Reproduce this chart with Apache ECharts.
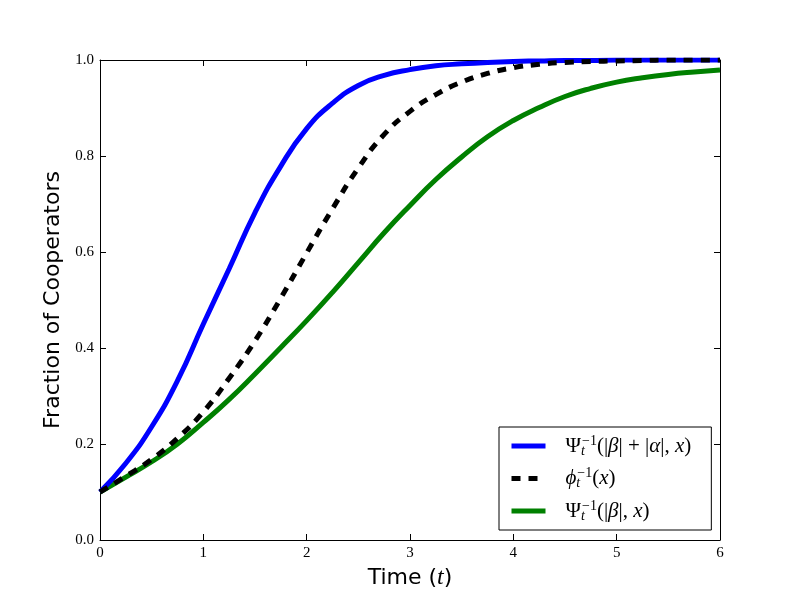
<!DOCTYPE html>
<html>
<head>
<meta charset="utf-8">
<title>Fraction of Cooperators</title>
<script src="https://cdn.jsdelivr.net/npm/echarts@6/dist/echarts.min.js"></script>
<style>
  html, body { margin: 0; padding: 0; background: #fff; }
  #main { width: 800px; height: 600px; }
</style>
</head>
<body>
<div id="main"></div>
<script>
// tiempo muestreado cada 0.25
var tiempos = [0, 0.25, 0.5, 0.75, 1, 1.25, 1.5, 1.75, 2, 2.25, 2.5, 2.75, 3,
    3.25, 3.5, 3.75, 4, 4.25, 4.5, 4.75, 5, 5.25, 5.5, 5.75, 6];

// valores
var psiBetaAlfa = [0.100, 0.160, 0.236, 0.332, 0.450, 0.565, 0.682, 0.779, 0.857, 0.910,
    0.947, 0.968, 0.980, 0.988, 0.992, 0.995, 0.997, 0.998, 0.999, 0.999,
    1.000, 1.000, 1.000, 1.000, 1.000];
var phiInv = [0.100, 0.133, 0.168, 0.212, 0.267, 0.337, 0.415, 0.504, 0.598, 0.690,
    0.775, 0.845, 0.893, 0.928, 0.954, 0.972, 0.984, 0.991, 0.995, 0.997,
    0.998, 0.999, 1.000, 1.000, 1.000];
var psiBeta = [0.100, 0.131, 0.163, 0.200, 0.245, 0.293, 0.346, 0.401, 0.457, 0.516,
    0.578, 0.640, 0.697, 0.751, 0.798, 0.840, 0.874, 0.901, 0.924, 0.941,
    0.954, 0.963, 0.970, 0.975, 0.979];

var xTicks = [0, 1, 2, 3, 4, 5, 6];
var yTicks = [0.0, 0.2, 0.4, 0.6, 0.8, 1.0];

var nombres = ['psiBA', 'phi', 'psiB'];

// etiquetas de la leyenda en texto enriquecido
var etiquetas = {
    psiBA: '{m|Ψ}{sb|t}{sp|−1}{m|(|}{i|β}{m|| + |}{i|α}{m||, }{i|x}{m|)}',
    phi: '{i|ϕ}{sb|t}{sp|−1}{m|(}{i|x}{m|)}',
    psiB: '{m|Ψ}{sb|t}{sp|−1}{m|(|}{i|β}{m||, }{i|x}{m|)}'
};

const armarPares = (xs, ys) => xs.map((x, i) => [x, ys[i]]);

var serif = 'Liberation Serif';
var fuenteLeyenda = 21;

var richLeyenda = {
    m: { fontFamily: serif, fontSize: fuenteLeyenda, lineHeight: 24, color: '#000' },
    i: { fontFamily: serif, fontSize: fuenteLeyenda, fontStyle: 'italic', lineHeight: 24, color: '#000' },
    sb: { fontFamily: serif, fontSize: 14, fontStyle: 'italic', lineHeight: 11, verticalAlign: 'bottom', width: 1, color: '#000' },
    sp: { fontFamily: serif, fontSize: 14, lineHeight: 11, verticalAlign: 'top', color: '#000' }
};

function ejeMarco(pos, min, max, intervalo) {
    return {
        type: 'value', position: pos, min: min, max: max, interval: intervalo,
        axisLine: { show: true, onZero: false, lineStyle: { color: '#000', width: 1 } },
        axisTick: { show: true, inside: true, length: 6, lineStyle: { color: '#000' } },
        axisLabel: { show: false },
        splitLine: { show: false }
    };
}

var chart = echarts.init(document.getElementById('main'), null, { renderer: 'canvas' });

var option = {
    backgroundColor: '#fff',
    animation: false,
    grid: { left: 100, right: 80, top: 60, bottom: 60, show: false },
    xAxis: [{
        type: 'value', min: 0, max: 6, interval: 1, position: 'bottom',
        name: '{s|Time (}{t|t}{s|)}',
        nameLocation: 'middle', nameGap: 26,
        nameTextStyle: {
            rich: {
                s: { fontFamily: 'DejaVu Sans', fontSize: 22, color: '#000' },
                t: { fontFamily: serif, fontSize: 24, fontStyle: 'italic', color: '#000' }
            }
        },
        axisLine: { show: true, onZero: false, lineStyle: { color: '#000', width: 1 } },
        axisTick: { show: true, inside: true, length: 6, lineStyle: { color: '#000' } },
        axisLabel: { fontFamily: serif, fontSize: 15, color: '#000', margin: 6,
            formatter: v => xTicks.indexOf(v) >= 0 ? String(v) : '' },
        splitLine: { show: false }
    }, ejeMarco('top', 0, 6, 1)],
    yAxis: [{
        type: 'value', min: 0, max: 1, interval: 0.2, position: 'left',
        name: 'Fraction of Cooperators',
        nameLocation: 'middle', nameGap: 32, nameRotate: 90,
        nameTextStyle: { fontFamily: 'DejaVu Sans', fontSize: 22, color: '#000' },
        axisLine: { show: true, onZero: false, lineStyle: { color: '#000', width: 1 } },
        axisTick: { show: true, inside: true, length: 6, lineStyle: { color: '#000' } },
        axisLabel: { fontFamily: serif, fontSize: 15, color: '#000', margin: 6,
            formatter: v => yTicks.some(t => Math.abs(t - v) < 1e-9) ? v.toFixed(1) : '' },
        splitLine: { show: false }
    }, ejeMarco('right', 0, 1, 0.2)],
    legend: {
        data: nombres,
        orient: 'vertical',
        left: 499, top: 427,
        backgroundColor: '#fff',
        borderColor: '#000', borderWidth: 1, borderRadius: 0,
        padding: [7, 20, 7, 10],
        itemWidth: 34, itemHeight: 14, itemGap: 8.5,
        itemStyle: { opacity: 0 },
        lineStyle: { width: 5 },
        formatter: n => etiquetas[n],
        textStyle: { padding: [0, 0, 0, 15], rich: richLeyenda }
    },
    series: [{
        name: 'psiBA', type: 'line', data: armarPares(tiempos, psiBetaAlfa),
        smooth: 0.5, symbol: 'none',
        lineStyle: { color: '#0000ff', width: 5 }, itemStyle: { color: '#0000ff' }, z: 3
    }, {
        name: 'phi', type: 'line', data: armarPares(tiempos, phiInv),
        smooth: 0.5, symbol: 'none',
        lineStyle: { color: '#000', width: 5, type: [9, 8], cap: 'butt' }, itemStyle: { color: '#000' }, z: 4
    }, {
        name: 'psiB', type: 'line', data: armarPares(tiempos, psiBeta),
        smooth: 0.5, symbol: 'none',
        lineStyle: { color: '#008000', width: 5 }, itemStyle: { color: '#008000' }, z: 2
    }]
};

chart.setOption(option);
</script>
</body>
</html>
